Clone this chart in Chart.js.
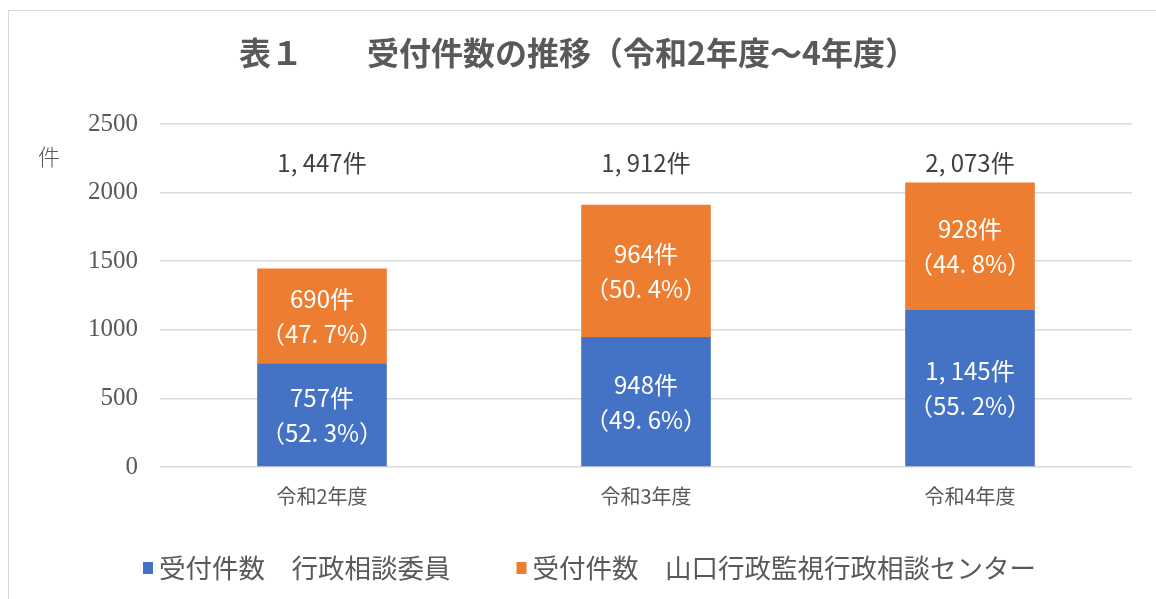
<!DOCTYPE html>
<html lang="ja">
<head>
<meta charset="utf-8">
<title>受付件数の推移</title>
<script src="https://cdn.jsdelivr.net/npm/chart.js@4.4.0/dist/chart.umd.min.js"></script>
<style>
  html, body { margin: 0; padding: 0; background: #fff; }
  #wrap { width: 1156px; height: 599px; position: relative; }
</style>
</head>
<body>
<div id="wrap"><canvas id="myChart" width="1156" height="599"></canvas></div>
<script>
// data
const categories = ["令和2年度", "令和3年度", "令和4年度"];
const seriesNames = ["受付件数　行政相談委員", "受付件数　山口行政監視行政相談センター"];
const committeeCounts = [757, 948, 1145];
const centerCounts = [690, 964, 928];
const yTicks = [0, 500, 1000, 1500, 2000, 2500];

const titleText = "表１　　受付件数の推移（令和2年度～4年度）";
const unitText = "件";
const totalRow = 2220; // value on the y axis where totals are written

const BLUE = "#4472C4";
const ORANGE = "#ED7D31";
const GREY = "#595959";
const JP = "'Noto Sans CJK JP', 'Noto Sans', sans-serif";

function fmt(n) {
  return n.toLocaleString("en-US").replace(",", ", ");
}
function pct(v, total) {
  return "（" + (v / total * 100).toFixed(1).replace(".", ". ") + "%）";
}

const labelPlugin = {
  id: "labels",
  beforeDraw(chart) {
    const ctx = chart.ctx;
    ctx.save();
    ctx.strokeStyle = "#d9d9d9";
    ctx.lineWidth = 1;
    ctx.strokeRect(8.5, 10.5, 1170, 610);
    ctx.restore();
  },
  afterDraw(chart) {
    const ctx = chart.ctx;
    const y = chart.scales.y;
    ctx.save();
    // title
    ctx.fillStyle = GREY;
    ctx.textAlign = "center";
    ctx.textBaseline = "middle";
    ctx.font = "bold 32px " + JP;
    ctx.fillText(titleText, 578, 53);
    // unit
    ctx.font = "300 22px " + JP;
    ctx.fillText(unitText, 49, 157);

    // bar labels
    chart.data.datasets.forEach((ds, di) => {
      const meta = chart.getDatasetMeta(di);
      meta.data.forEach((bar, i) => {
        const total = committeeCounts[i] + centerCounts[i];
        const v = ds.data[i];
        const cy = (bar.y + bar.base) / 2;
        ctx.fillStyle = "#fff";
        ctx.font = "24px " + JP;
        ctx.fillText(fmt(v) + "件", bar.x, cy - 17);
        ctx.fillText(pct(v, total), bar.x, cy + 18);
      });
    });
    // totals
    const meta0 = chart.getDatasetMeta(0);
    ctx.fillStyle = "#404040";
    ctx.font = "24px " + JP;
    meta0.data.forEach((bar, i) => {
      const total = committeeCounts[i] + centerCounts[i];
      ctx.fillText(fmt(total) + "件", bar.x, y.getPixelForValue(totalRow));
    });

    // legend
    ctx.textAlign = "left";
    ctx.font = "26.5px " + JP;
    let x = 143;
    chart.data.datasets.forEach(ds => {
      ctx.fillStyle = ds.backgroundColor;
      ctx.fillRect(x, 562, 10, 12);
      ctx.fillStyle = GREY;
      ctx.fillText(ds.label, x + 16, 568);
      x += 16 + ctx.measureText(ds.label).width + 66;
    });
    ctx.restore();
  }
};

new Chart(document.getElementById("myChart"), {
  type: "bar",
  data: {
    labels: categories,
    datasets: [
      { label: seriesNames[0], data: committeeCounts, backgroundColor: BLUE, borderWidth: 0 },
      { label: seriesNames[1], data: centerCounts, backgroundColor: ORANGE, borderWidth: 0 }
    ]
  },
  options: {
    responsive: false,
    animation: false,
    layout: { padding: { left: 0, right: 24, top: 124, bottom: 82 } },
    datasets: { bar: { categoryPercentage: 1, barPercentage: 0.4 } },
    scales: {
      x: {
        stacked: true,
        grid: { display: false },
        border: { display: false },
        ticks: { color: GREY, padding: 9, font: { family: JP, size: 20 } }
      },
      y: {
        stacked: true,
        min: 0,
        max: 2500,
        afterFit(scale) { scale.width = 160; },
        afterBuildTicks(scale) { scale.ticks = yTicks.map(v => ({ value: v })); },
        grid: { color: "#d9d9d9", lineWidth: 1.5, drawTicks: false },
        border: { display: false },
        ticks: {
          color: GREY,
          padding: 22,
          font: { family: "'Liberation Serif', serif", size: 25 },
          callback: v => String(v)
        }
      }
    },
    plugins: {
      legend: { display: false },
      tooltip: { enabled: false }
    }
  },
  plugins: [labelPlugin]
});
</script>
</body>
</html>
